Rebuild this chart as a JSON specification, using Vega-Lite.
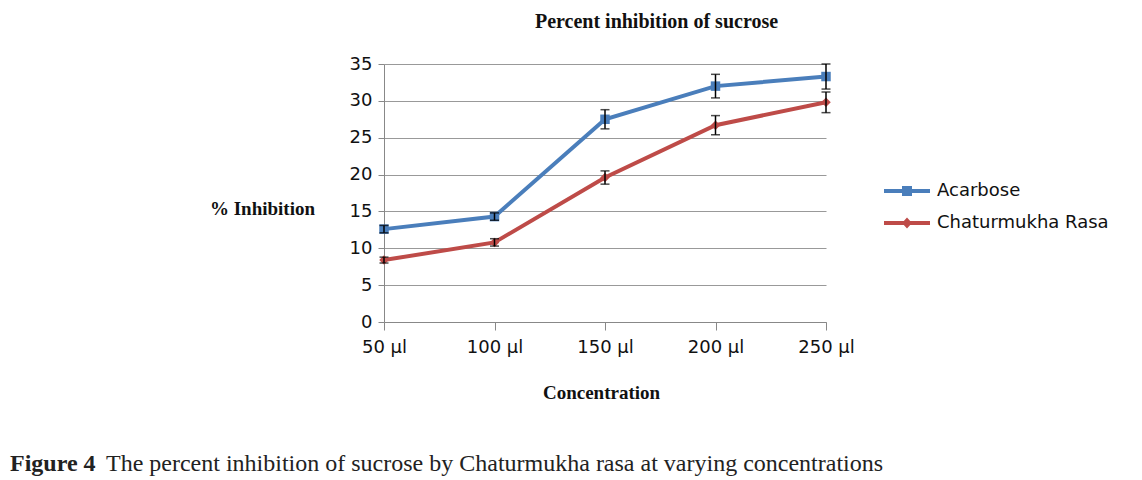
{
  "$schema": "https://vega.github.io/schema/vega-lite/v6.json",
  "autosize": {"type": "none"},
  "width": 442,
  "height": 258,
  "padding": {"left": 384, "top": 64, "right": 316, "bottom": 158},
  "background": "white",
  "title": {
    "text": "Figure 4",
    "subtitle": "\u200b\u00a0\u00a0\u00a0\u00a0\u00a0\u00a0\u00a0\u00a0\u00a0\u00a0\u00a0\u00a0\u00a0\u00a0\u00a0\u00a0The percent inhibition of sucrose by Chaturmukha rasa at varying concentrations",
    "orient": "bottom",
    "anchor": "start",
    "frame": "group",
    "dx": -374,
    "offset": 50,
    "font": "Liberation Serif",
    "fontSize": 24,
    "fontWeight": "bold",
    "color": "#222222",
    "subtitleFont": "Liberation Serif",
    "subtitleFontSize": 24,
    "subtitleFontWeight": "normal",
    "subtitleColor": "#222222",
    "subtitlePadding": -24
  },
  "data": {
    "values": [
      {"conc": "50 µl", "series": "Acarbose", "value": 12.6, "lo": 12.1, "hi": 13.1},
      {"conc": "100 µl", "series": "Acarbose", "value": 14.3, "lo": 13.8, "hi": 14.8},
      {"conc": "150 µl", "series": "Acarbose", "value": 27.5, "lo": 26.2, "hi": 28.8},
      {"conc": "200 µl", "series": "Acarbose", "value": 32.0, "lo": 30.4, "hi": 33.6},
      {"conc": "250 µl", "series": "Acarbose", "value": 33.3, "lo": 31.6, "hi": 35.0},
      {"conc": "50 µl", "series": "Chaturmukha Rasa", "value": 8.4, "lo": 8.0, "hi": 8.8},
      {"conc": "100 µl", "series": "Chaturmukha Rasa", "value": 10.8, "lo": 10.3, "hi": 11.3},
      {"conc": "150 µl", "series": "Chaturmukha Rasa", "value": 19.6, "lo": 18.7, "hi": 20.5},
      {"conc": "200 µl", "series": "Chaturmukha Rasa", "value": 26.7, "lo": 25.4, "hi": 28.0},
      {"conc": "250 µl", "series": "Chaturmukha Rasa", "value": 29.8, "lo": 28.4, "hi": 31.2}
    ]
  },
  "config": {
    "view": {"stroke": null},
    "axis": {
      "labelFont": "DejaVu Sans",
      "labelFontSize": 18,
      "labelColor": "#111111",
      "domainColor": "#888888",
      "tickColor": "#888888",
      "gridColor": "#999999",
      "gridWidth": 1.2,
      "titleFont": "Liberation Serif",
      "titleFontSize": 19,
      "titleFontWeight": "bold",
      "titleColor": "#111111"
    },
    "axisY": {
      "title": "% Inhibition",
      "values": [0, 5, 10, 15, 20, 25, 30, 35],
      "titleAngle": 0,
      "titleX": -122,
      "titleY": 144,
      "titleAlign": "center",
      "titleBaseline": "middle",
      "tickSize": 6,
      "labelPadding": 6,
      "grid": true
    }
  },
  "resolve": {"axis": {"x": "independent"}},
  "layer": [
    {
      "mark": {"type": "line", "strokeWidth": 4},
      "encoding": {
        "x": {
          "field": "conc", "type": "ordinal",
          "sort": ["50 µl", "100 µl", "150 µl", "200 µl", "250 µl"],
          "scale": {"type": "point", "padding": 0},
          "axis": {
            "orient": "bottom",
            "title": "Concentration",
            "labelAngle": 0,
            "labelPadding": 8,
            "tickSize": 8,
            "titleX": 217,
            "titleY": 61,
            "titleAnchor": "middle",
            "titleAlign": "center",
            "grid": false
          }
        },
        "y": {
          "field": "value", "type": "quantitative",
          "scale": {"domain": [0, 35], "nice": false},
          "axis": {"title": "% Inhibition", "values": [0, 5, 10, 15, 20, 25, 30, 35]}
        },
        "color": {
          "field": "series", "type": "nominal",
          "scale": {"domain": ["Acarbose", "Chaturmukha Rasa"], "range": ["#4A7EBB", "#BE4B48"]},
          "legend": {
            "title": null,
            "orient": "none",
            "legendX": 513,
            "legendY": 117,
            "padding": 0,
            "symbolSize": 400,
            "labelOffset": 20,
            "labelLimit": 400,
            "rowPadding": 13,
            "labelFont": "DejaVu Sans",
            "labelFontSize": 18,
            "labelColor": "#111111",
            "encode": {
              "symbols": {
                "update": {
                  "shape": {"signal": "datum.value === 'Acarbose' ? 'M-2.3,-0.2L2.3,-0.2L2.3,0.2L-2.3,0.2Z M-0.5,-0.5L0.5,-0.5L0.5,0.5L-0.5,0.5Z' : 'M-2.3,-0.2L2.3,-0.2L2.3,0.2L-2.3,0.2Z M0,-0.55L0.5,0L0,0.55L-0.5,0Z'"},
                  "fill": {"signal": "scale('color', datum.value)"},
                  "fillOpacity": {"value": 1},
                  "strokeWidth": {"value": 0}
                }
              }
            }
          }
        }
      }
    },
    {
      "transform": [{"filter": "datum.series === 'Acarbose'"}],
      "mark": {"type": "point", "filled": true, "opacity": 1, "shape": "square", "color": "#4A7EBB", "size": 90},
      "encoding": {
        "x": {"field": "conc", "type": "ordinal", "sort": ["50 µl", "100 µl", "150 µl", "200 µl", "250 µl"], "axis": null},
        "y": {"field": "value", "type": "quantitative", "axis": {"title": "% Inhibition", "values": [0, 5, 10, 15, 20, 25, 30, 35]}}
      }
    },
    {
      "transform": [{"filter": "datum.series === 'Chaturmukha Rasa'"}],
      "mark": {"type": "point", "filled": true, "opacity": 1, "shape": "diamond", "color": "#BE4B48", "size": 90},
      "encoding": {
        "x": {"field": "conc", "type": "ordinal", "sort": ["50 µl", "100 µl", "150 µl", "200 µl", "250 µl"], "axis": null},
        "y": {"field": "value", "type": "quantitative", "axis": {"title": "% Inhibition", "values": [0, 5, 10, 15, 20, 25, 30, 35]}}
      }
    },
    {
      "mark": {"type": "errorbar", "ticks": true, "color": "black", "thickness": 1.5, "size": 9},
      "encoding": {
        "x": {
          "field": "conc", "type": "ordinal",
          "sort": ["50 µl", "100 µl", "150 µl", "200 µl", "250 µl"],
          "axis": {
            "orient": "top",
            "title": "Percent inhibition of sucrose",
            "labels": false,
            "ticks": false,
            "domain": false,
            "grid": false,
            "titleX": 272,
            "titleY": -33,
            "titleAlign": "center",
            "titleFontSize": 20
          }
        },
        "y": {"field": "lo", "type": "quantitative", "axis": {"title": "% Inhibition", "values": [0, 5, 10, 15, 20, 25, 30, 35]}},
        "y2": {"field": "hi"}
      }
    }
  ]
}
